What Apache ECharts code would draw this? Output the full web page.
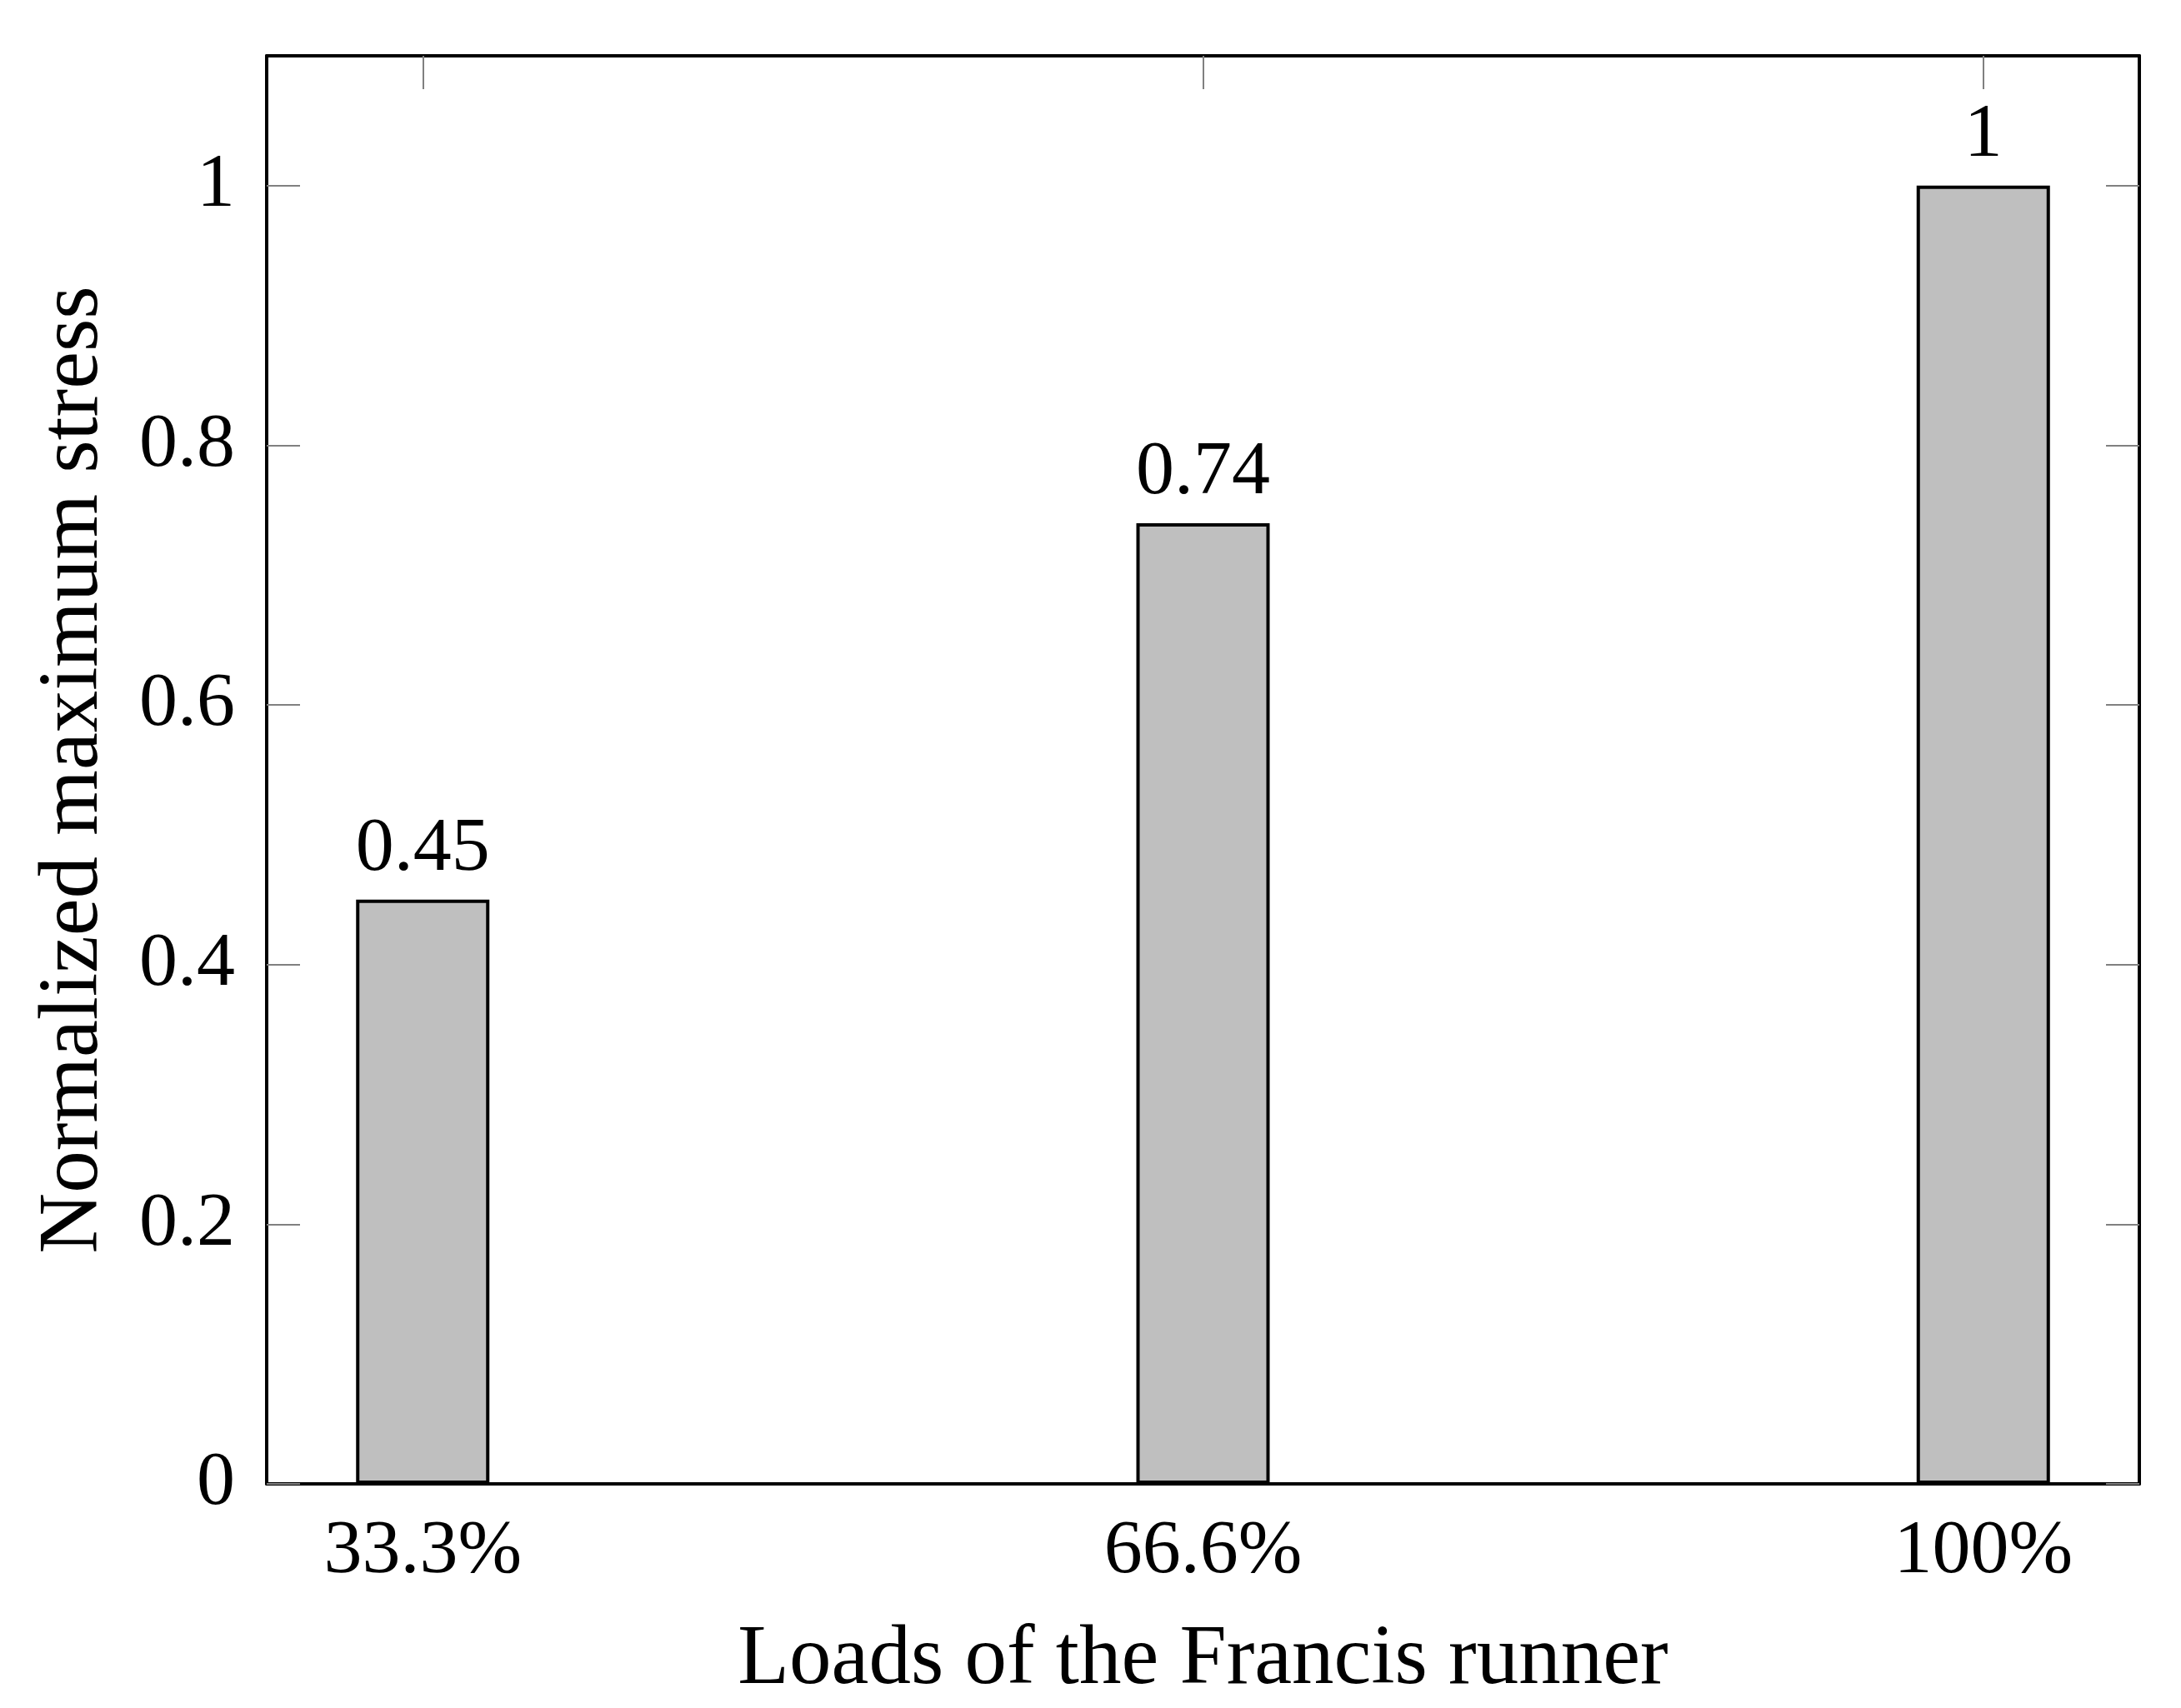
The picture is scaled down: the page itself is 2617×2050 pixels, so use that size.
<!DOCTYPE html>
<html>
<head>
<meta charset="utf-8">
<script src="https://cdn.jsdelivr.net/npm/echarts@6/dist/echarts.min.js"></script>
<style>
html,body{margin:0;padding:0;background:#fff;}
#chart{width:2617px;height:2050px;}
</style>
</head>
<body>
<div id="chart"></div>
<script>
const categories = ['33.3%', '66.6%', '100%'];
const positions = [0, 1, 2];
const stress = [0.45, 0.74, 1];
const valueLabels = ['0.45', '0.74', '1'];
const yTicks = [0, 0.2, 0.4, 0.6, 0.8, 1];

const FONT = '"Liberation Serif", "DejaVu Serif", serif';
const FS = 92;
const NAME_FS = 101;

const chart = echarts.init(document.getElementById('chart'), null, {renderer: 'canvas'});

const data = positions.map((p, i) => [p, stress[i]]);

const option = {
  animation: false,
  backgroundColor: '#ffffff',
  textStyle: {fontFamily: FONT},
  grid: {left: 320, right: 50, top: 67, bottom: 269, containLabel: false},
  xAxis: [
    {
      type: 'value', position: 'bottom', min: -0.2, max: 2.2,
      name: 'Loads of the Francis runner', nameLocation: 'middle', nameGap: 162,
      nameTextStyle: {fontFamily: FONT, fontSize: NAME_FS, color: '#000'},
      axisLine: {show: true, onZero: false, lineStyle: {color: '#000', width: 4}},
      axisTick: {show: false},
      splitLine: {show: false},
      axisLabel: {
        show: true, customValues: positions, margin: 36,
        fontFamily: FONT, fontSize: FS, color: '#000',
        formatter: function (v) { const i = positions.indexOf(Math.round(v)); return i >= 0 ? categories[i] : ''; }
      }
    },
    {
      type: 'value', position: 'top', min: -0.2, max: 2.2,
      axisLine: {show: true, onZero: false, lineStyle: {color: '#000', width: 4}},
      axisTick: {show: true, inside: true, length: 40, customValues: positions, lineStyle: {color: '#808080', width: 2}},
      axisLabel: {show: false},
      splitLine: {show: false}
    }
  ],
  yAxis: [
    {
      type: 'value', position: 'left', min: 0, max: 1.1,
      name: 'Normalized maximum stress', nameLocation: 'middle', nameGap: 180, nameRotate: 90,
      nameTextStyle: {fontFamily: FONT, fontSize: NAME_FS, color: '#000'},
      axisLine: {show: true, onZero: false, lineStyle: {color: '#000', width: 4}},
      axisTick: {show: true, inside: true, length: 40, customValues: yTicks, lineStyle: {color: '#808080', width: 2}},
      splitLine: {show: false},
      axisLabel: {
        show: true, customValues: yTicks, margin: 38,
        fontFamily: FONT, fontSize: FS, color: '#000',
        formatter: function (v) { return String(Math.round(v * 10) / 10); }
      }
    },
    {
      type: 'value', position: 'right', min: 0, max: 1.1,
      axisLine: {show: true, onZero: false, lineStyle: {color: '#000', width: 4}},
      axisTick: {show: true, inside: true, length: 40, customValues: yTicks, lineStyle: {color: '#808080', width: 2}},
      splitLine: {show: false},
      axisLabel: {show: false}
    }
  ],
  series: [
    {
      type: 'bar', xAxisIndex: 0, yAxisIndex: 0,
      barWidth: 160,
      data: data,
      itemStyle: {color: '#bfbfbf', borderColor: '#000', borderWidth: 4},
      label: {
        show: true, position: 'top', distance: 14,
        fontFamily: FONT, fontSize: FS, color: '#000',
        formatter: function (p) { return valueLabels[p.dataIndex]; }
      }
    }
  ]
};
chart.setOption(option);
</script>
</body>
</html>
